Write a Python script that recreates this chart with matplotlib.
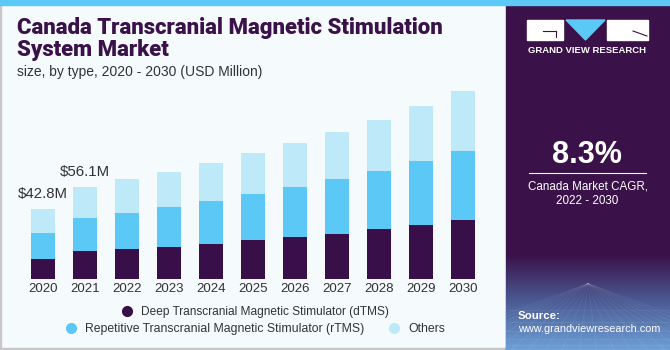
import matplotlib.pyplot as plt
import numpy as np
from matplotlib.lines import Line2D
from matplotlib.patches import Rectangle, Polygon
from matplotlib.colors import LinearSegmentedColormap

# data (USD Million)
years = ["2020", "2021", "2022", "2023", "2024", "2025", "2026", "2027", "2028", "2029", "2030"]
dtms = [12.3, 17.0, 18.3, 19.7, 21.5, 23.8, 25.8, 27.6, 30.3, 32.9, 35.8]
rtms = [16.0, 20.5, 22.0, 24.2, 26.0, 27.9, 30.1, 33.4, 35.7, 39.0, 42.3]
others = [14.5, 18.6, 20.5, 21.5, 23.2, 25.0, 26.8, 28.5, 30.9, 33.7, 36.4]
value_labels = {0: "$42.8M", 1: "$56.1M"}
series_names = ["Deep Transcranial Magnetic Stimulator (dTMS)",
                "Repetitive Transcranial Magnetic Stimulator (rTMS)",
                "Others"]

c_dark = "#380F48"
c_mid = "#5BC8F5"
c_light = "#BDE9F9"
panel = "#3A1149"
bg = "#F5FAFD"

plt.rcParams['font.family'] = ['Liberation Sans', 'DejaVu Sans']

W, H = 670, 350
fig = plt.figure(figsize=(6.7, 3.5), dpi=100)
fig.patch.set_facecolor(bg)

def fx(px):
    return px / W

def fy(py):
    return 1 - py / H

# borders + right panel
fig.add_artist(Rectangle((0, 0), fx(1), 1, transform=fig.transFigure, color="#C8C8C8", zorder=0))
fig.add_artist(Rectangle((0, 0), 1, fy(348), transform=fig.transFigure, color="#C8C8C8", zorder=0))
fig.add_artist(Rectangle((fx(506), 0), 1, 1, transform=fig.transFigure, color=panel, zorder=0))

# gradient at bottom of the right panel
gax = fig.add_axes([fx(506), 0, 1 - fx(506), fy(255)])
grad = np.linspace(0, 1, 100)[:, None]
cmap = LinearSegmentedColormap.from_list("g", ["#6E9FD6", "#4B5C95", panel])
gax.imshow(grad, aspect="auto", cmap=cmap, extent=[0, 1, 0, 1], origin="lower")
for k in np.linspace(-0.6, 1.6, 22):
    gax.plot([0.5, k], [0.7, 0], color="white", alpha=0.07, lw=0.6)
for h in [0.05, 0.12, 0.2, 0.3, 0.42]:
    gax.plot([0, 1], [h, h], color="white", alpha=0.07, lw=0.6)
gax.set_xlim(0, 1)
gax.set_ylim(0, 1)
gax.axis("off")

# top strip
fig.add_artist(Rectangle((0, fy(5)), 1, fy(0) - fy(5), transform=fig.transFigure, color="#5BC8F5", zorder=5))

# bars
ax = fig.add_axes([fx(21.8), fy(279), fx(462), fy(85) - fy(279)])
ax.set_facecolor("none")
x = np.arange(len(years))
bw = 0.58
bottom2 = np.array(dtms)
bottom3 = bottom2 + np.array(rtms)
totals = bottom3 + np.array(others)
ax.bar(x, dtms, bw, color=c_dark)
ax.bar(x, rtms, bw, bottom=bottom2, color=c_mid)
ax.bar(x, others, bw, bottom=bottom3, color=c_light)
ax.set_xlim(-0.5, 10.5)
ax.set_ylim(0, 118.3)
ax.set_xticks(x, years)
ax.tick_params(axis="x", length=0, pad=3, labelsize=9.5, colors="#333333")
ax.set_yticks([])
for s in ax.spines.values():
    s.set_visible(False)
for i, lab in value_labels.items():
    ax.annotate(lab, (x[i], totals[i]), xytext=(0, 11), textcoords="offset points",
                ha="center", va="center", fontsize=10.8, color="#333333")

# titles
title_font = ['Roboto', 'Liberation Sans', 'DejaVu Sans']
fig.text(fx(17), fy(28), "Canada Transcranial Magnetic Stimulation", fontsize=15.9,
         fontweight="black", family=title_font, color="#3A1149", va="center", ha="left")
fig.text(fx(17), fy(50), "System Market", fontsize=15.9,
         fontweight="black", family=title_font, color="#3A1149", va="center", ha="left")
fig.text(fx(17), fy(72), "size, by type, 2020 - 2030 (USD Million)", fontsize=10,
         color="#333333", va="center", ha="left")

# legends
h1 = [Line2D([], [], marker="o", ls="", color=c_dark, markersize=7)]
h2 = [Line2D([], [], marker="o", ls="", color=c_mid, markersize=7),
      Line2D([], [], marker="o", ls="", color=c_light, markersize=7)]
fig.legend(h1, series_names[:1], loc="center", bbox_to_anchor=(fx(252), fy(312.5)),
           frameon=False, fontsize=8.6, handletextpad=0.2, borderpad=0, labelcolor="#333333")
fig.legend(h2, series_names[1:], loc="center", bbox_to_anchor=(fx(252), fy(329)),
           frameon=False, fontsize=8.8, ncol=2, handletextpad=0.2, columnspacing=1.4,
           borderpad=0, labelcolor="#333333")

# logo
fig.add_artist(Rectangle((fx(527), fy(40)), fx(36), fy(20) - fy(40), transform=fig.transFigure,
                         color="white", zorder=6))
fig.add_artist(Rectangle((fx(607), fy(40)), fx(41), fy(20) - fy(40), transform=fig.transFigure,
                         color="white", zorder=6))
fig.add_artist(Polygon([(fx(566), fy(20)), (fx(605), fy(20)), (fx(585.5), fy(40))],
                       transform=fig.transFigure, color="#5BC8F5", zorder=6))
fig.add_artist(Line2D([fx(543), fx(556)], [fy(31), fy(31)], transform=fig.transFigure,
                      color=panel, lw=0.8, zorder=7))
fig.add_artist(Line2D([fx(556), fx(556)], [fy(31), fy(37)], transform=fig.transFigure,
                      color=panel, lw=0.8, zorder=7))
fig.add_artist(Line2D([fx(633), fx(647)], [fy(31), fy(36)], transform=fig.transFigure,
                      color=panel, lw=0.8, zorder=7))
fig.text(fx(587.5), fy(50.7), "GRAND VIEW RESEARCH", fontsize=6.8, fontweight="bold",
         color="white", ha="center", va="center")

# CAGR
fig.text(fx(587), fy(155), "8.3%", fontsize=22, fontweight="bold", color="white",
         ha="center", va="center")
fig.add_artist(Line2D([fx(529), fx(646)], [fy(173.3), fy(173.3)], transform=fig.transFigure,
                      color="white", lw=0.8))
fig.text(fx(587.5), fy(186), "Canada Market CAGR,", fontsize=8.4, color="white",
         ha="center", va="center")
fig.text(fx(587.5), fy(201), "2022 - 2030", fontsize=8.4, color="white",
         ha="center", va="center")
fig.text(fx(518), fy(315.7), "Source:", fontsize=8.2, fontweight="bold", color="white",
         ha="left", va="center")
fig.text(fx(518), fy(329.3), "www.grandviewresearch.com", fontsize=7.8, color="white",
         ha="left", va="center")

fig.savefig("out.png", dpi=100, facecolor=bg)
